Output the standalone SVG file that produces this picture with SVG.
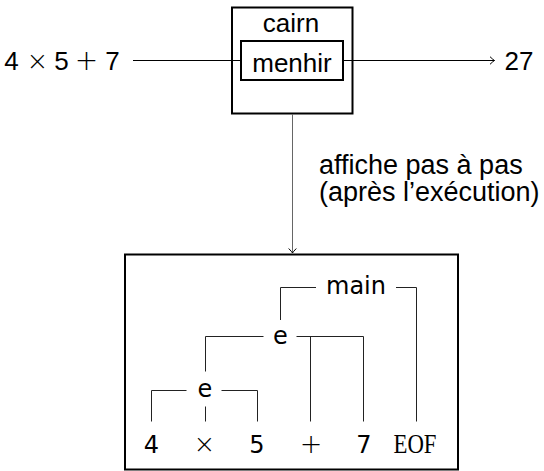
<svg xmlns="http://www.w3.org/2000/svg" width="544" height="471" viewBox="0 0 544 471">
  <defs>
    <style>
      .lbl { font-family: "Liberation Sans", Arial, sans-serif; font-size: 26px; fill: #000; }
      .note { font-family: "Liberation Sans", Arial, sans-serif; font-size: 27px; fill: #000; }
      .sym { font-family: "DejaVu Sans", sans-serif; font-weight: 200; fill: #000; }
      .tree { font-family: "DejaVu Sans", sans-serif; font-size: 24px; fill: #000; }
      .tt { font-family: "Liberation Serif", "Times New Roman", serif; font-size: 27px; fill: #000; }
      .box { fill: none; stroke: #000; stroke-width: 2; }
      .wire { fill: none; stroke: #000; stroke-width: 1; }
      .wire-grey { fill: none; stroke: #666; stroke-width: 1; }
      .branch { fill: none; stroke: #222; stroke-width: 1; }
    </style>
    <marker id="to" viewBox="-6 -5 7 10" refX="0" refY="0" markerWidth="7" markerHeight="10" markerUnits="userSpaceOnUse" orient="auto">
      <path d="M-4.5,-3.8 Q-1.2,-0.6 0,0 Q-1.2,0.6 -4.5,3.8" fill="none" stroke="#000" stroke-width="1"/>
    </marker>
  </defs>

  <!-- input expression -->
  <g id="input">
    <text class="lbl" y="69.5">
      <tspan x="15" text-anchor="middle">4</tspan>
      <tspan class="sym" x="41" font-size="26" text-anchor="middle">×</tspan>
      <tspan x="65" text-anchor="middle">5</tspan>
      <tspan class="sym" x="90" font-size="28" text-anchor="middle">+</tspan>
      <tspan x="112.5" text-anchor="middle">7</tspan>
    </text>
  </g>

  <!-- compiler box with the interpreter inside -->
  <g id="cairn">
    <rect class="box" x="232" y="7.5" width="120.5" height="106"/>
    <text class="lbl" x="291" y="31.5" text-anchor="middle">cairn</text>
  </g>
  <g id="menhir">
    <rect class="box" x="241" y="41" width="102" height="39"/>
    <text class="lbl" x="292" y="71.5" text-anchor="middle">menhir</text>
  </g>

  <!-- result -->
  <g id="output">
    <text class="lbl" x="519" y="70" text-anchor="middle">27</text>
  </g>

  <!-- connectors -->
  <g id="connectors">
    <line class="wire" x1="133" y1="60.5" x2="241" y2="60.5"/>
    <line class="wire" x1="343" y1="60.5" x2="494.5" y2="60.5" marker-end="url(#to)"/>
    <line class="wire-grey" x1="292.5" y1="114" x2="292.5" y2="253" marker-end="url(#to)"/>
    <text class="note" x="319" y="173.5">affiche pas à pas</text>
    <text class="note" x="319" y="201">(après l’exécution)</text>
  </g>

  <!-- parse tree panel -->
  <g id="tree-panel">
    <rect class="box" x="125" y="254.5" width="333" height="215"/>
  </g>

  <g id="tree-edges">
    <path class="branch" d="M280.5,320 V287.5 H316"/>
    <path class="branch" d="M396,287.5 H416.5 V421.5"/>
    <path class="branch" d="M205.5,371.5 V336.5 H263.5"/>
    <path class="branch" d="M296.5,336.5 H363.5 V421.5"/>
    <path class="branch" d="M310.5,336.5 V421.5"/>
    <path class="branch" d="M151.5,421.5 V390.5 H186.5"/>
    <path class="branch" d="M221.5,390.5 H257.5 V421.5"/>
    <path class="branch" d="M205.5,406.5 V421.5"/>
  </g>

  <g id="node-main">
    <text class="tree" x="356" y="294" text-anchor="middle">main</text>
  </g>
  <g id="node-e-outer">
    <text class="tree" x="280.5" y="344" text-anchor="middle">e</text>
  </g>
  <g id="node-e-inner">
    <text class="tree" x="205" y="397" text-anchor="middle">e</text>
  </g>
  <g id="leaf-4"><text class="tree" x="151.5" y="453" text-anchor="middle">4</text></g>
  <g id="leaf-times"><text class="sym" x="204.5" y="453" font-size="26" text-anchor="middle">×</text></g>
  <g id="leaf-5"><text class="tree" x="257" y="453" text-anchor="middle">5</text></g>
  <g id="leaf-plus"><text class="sym" x="311" y="453" font-size="27" text-anchor="middle">+</text></g>
  <g id="leaf-7"><text class="tree" x="364" y="453" text-anchor="middle">7</text></g>
  <g id="leaf-eof"><text class="tt" x="415" y="453" text-anchor="middle" textLength="43" lengthAdjust="spacingAndGlyphs">EOF</text></g>
</svg>
